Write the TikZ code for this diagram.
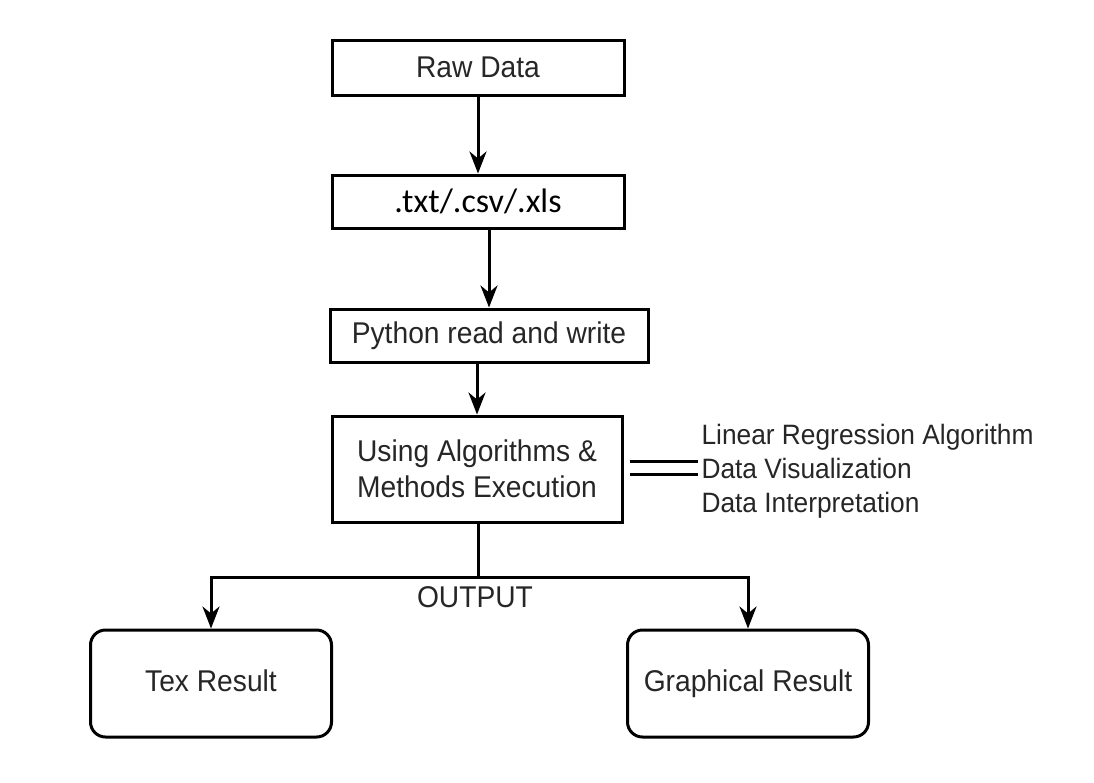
\documentclass[tikz,border=0pt]{standalone}
\usepackage{fontspec}
\setmainfont{Liberation Sans}[FakeStretch=0.94]
\newfontfamily\calfont{Carlito}
\usetikzlibrary{positioning, arrows.meta}
\tikzset{
  fblk/.style={draw, line width=3pt, align=center, text=black!85,
               font=\fontsize{30}{36}\selectfont, inner sep=4pt},
  fbox/.style={fblk, minimum width=#1},
  fres/.style={fblk, rounded corners=15pt, minimum width=241pt, minimum height=107pt,
               text height=21pt, text depth=5pt},
  farr/.style={-{Stealth[length=22pt, width=17pt, inset=7pt]}, line width=3pt},
  fline/.style={line width=3pt},
}

\begin{document}
\begin{tikzpicture}[x=1pt, y=-1pt]
        \useasboundingbox (0,0) rectangle (1094,782);
        \node[fbox=292pt, minimum height=55pt](a) at (478,67.5){Raw Data};
        \node[fbox=292pt, minimum height=53pt, text=black, font=\calfont\fontsize{34}{40}\selectfont](b) at (478,201.5){.txt/.csv/.xls};
        \node[fbox=318pt, minimum height=53pt](c) at (489,335.5){Python read and write};
        \node[fbox=290pt, minimum height=106pt](d) at (477,469){Using Algorithms \&\\Methods Execution};
        \node[anchor=west, align=left, text=black!85, font=\fontsize{28}{34}\selectfont](lst) at (698,471)
          {Linear Regression Algorithm\\Data Visualization\\Data Interpretation};
        \node[fres](e) at (211,683.5){Tex Result};
        \node[fres](f) at (748,683.5){Graphical Result};
        \coordinate (fork) at (478,577);
        \node[text=black!85, font=\fontsize{30}{36}\selectfont](out) at (475,597){OUTPUT};
        \draw[farr](a)--(b); \draw[farr](c.north |- b.south)--(c.north); \draw[farr](c.south -| d.north)--(d.north);
        \draw[fline](d.south -| fork)--(fork);
        \draw[farr](fork)-|(e.north); \draw[farr](fork)-|(f.north);
        % double bar to the list of methods
        \draw[fline]([xshift=6pt, yshift=8pt]d.east)--([yshift=8pt]d.east -| lst.west);
        \draw[fline]([xshift=6pt, yshift=-5pt]d.east)--([yshift=-5pt]d.east -| lst.west);
      \end{tikzpicture}
\end{document}
